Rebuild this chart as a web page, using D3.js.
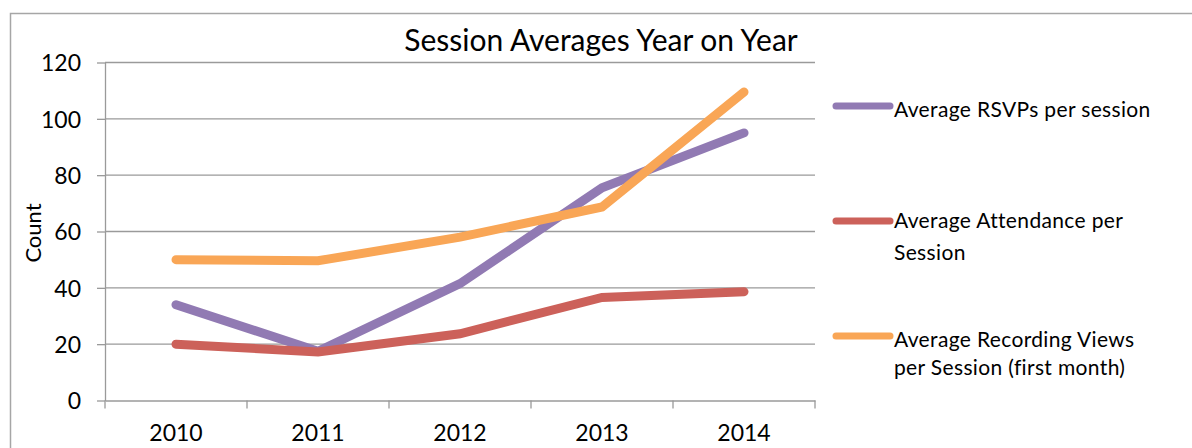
<!DOCTYPE html>
<html>
  <meta charset="utf-8">
  <head>
    <style>
        body { margin: 0; background: #fff; }
        svg { display: block; font-family: Lato, "Open Sans", sans-serif; }
    </style>
    <title>Session Averages Year on Year</title>
    <script src="https://cdn.jsdelivr.net/npm/d3@7"></script>
  </head>
  <body>
    <script>
      var years = ["2010", "2011", "2012", "2013", "2014"];
      var rsvps = [34, 17.5, 41.5, 75.5, 95];
      var attendance = [20, 17.2, 23.7, 36.6, 38.6];
      var views = [50, 49.6, 58, 68.7, 109.5];
      var yTicks = [0, 20, 40, 60, 80, 100, 120];
      var seriesNames = [["Average RSVPs per session"],
                         ["Average Attendance per", "Session"],
                         ["Average Recording Views", "per Session (first month)"]];
      var colors = ["#917ab3", "#cc615a", "#f9a656"];

      var W = 1192, H = 448;
      var svg = d3.select("body").append("svg").attr("width", W).attr("height", H);

      // outer frame (only top and left are visible)
      svg.append("rect").attr("x", 10.5).attr("y", 13.5)
         .attr("width", 1300).attr("height", 600)
         .attr("fill", "none").attr("stroke", "#a6a6a6").attr("stroke-width", 1.5);

      var x = d3.scaleBand().domain(years).range([105, 815]);
      var y = d3.scaleLinear().domain([0, 120]).range([400.5, 62.5]);

      // gridlines
      svg.append("g").selectAll("line").data(yTicks.slice(1)).enter().append("line")
         .attr("x1", 105).attr("x2", 815)
         .attr("y1", function(d) { return y(d); }).attr("y2", function(d) { return y(d); })
         .attr("stroke", "#9a9a9a").attr("stroke-width", 1.3);

      // y axis
      var yAxis = svg.append("g").attr("transform", "translate(105,0)")
         .call(d3.axisLeft(y).tickValues(yTicks).tickSize(8).tickPadding(16).tickSizeOuter(0));
      yAxis.select(".domain").attr("stroke", "#9a9a9a").attr("stroke-width", 1.3);
      yAxis.selectAll(".tick line").attr("stroke", "#9a9a9a").attr("stroke-width", 1.3);
      yAxis.selectAll("text").attr("font-size", "23px").attr("fill", "#000")
           .attr("font-family", "Lato").attr("dy", "0.36em");

      // x axis
      var xAxis = svg.append("g").attr("transform", "translate(0," + y(0) + ")")
         .call(d3.axisBottom(x).tickSize(0).tickPadding(24));
      xAxis.select(".domain").attr("stroke", "#9a9a9a").attr("stroke-width", 1.3);
      xAxis.selectAll("text").attr("font-size", "23px").attr("fill", "#000")
           .attr("font-family", "Lato");
      var bounds = years.map(function(d) { return x(d); }).concat([x.range()[1]]);
      xAxis.selectAll(".bound").data(bounds).enter().append("line")
           .attr("x1", function(d) { return d; }).attr("x2", function(d) { return d; })
           .attr("y1", 0).attr("y2", 8)
           .attr("stroke", "#9a9a9a").attr("stroke-width", 1.3);

      // lines
      var line = d3.line()
          .x(function(d, i) { return x(years[i]) + x.bandwidth() / 2; })
          .y(function(d) { return y(d); });
      [rsvps, attendance, views].forEach(function(s, k) {
        svg.append("path").datum(s).attr("d", line)
           .attr("fill", "none").attr("stroke", colors[k]).attr("stroke-width", 9)
           .attr("stroke-linecap", "round").attr("stroke-linejoin", "miter");
      });

      // title
      svg.append("text").attr("x", 601).attr("y", 51).attr("text-anchor", "middle")
         .attr("font-size", "30px").attr("fill", "#000").text("Session Averages Year on Year");

      // y label
      svg.append("text").attr("transform", "translate(41,233) rotate(-90)")
         .attr("text-anchor", "middle").attr("font-size", "22px").attr("fill", "#000").text("Count");

      // legend
      var legY = [106, 221, 336];
      var legBase = [[117], [227.5, 259.5], [346.5, 375]];
      seriesNames.forEach(function(lines, k) {
        var g = svg.append("g");
        g.append("line").attr("x1", 836).attr("x2", 890)
         .attr("y1", legY[k]).attr("y2", legY[k])
         .attr("stroke", colors[k]).attr("stroke-width", 7).attr("stroke-linecap", "round");
        lines.forEach(function(t, j) {
          g.append("text").attr("x", 894).attr("y", legBase[k][j])
           .attr("font-size", "21px").attr("letter-spacing", "0.35px")
           .attr("fill", "#000").text(t);
        });
      });
    </script>
  </body>
</html>
